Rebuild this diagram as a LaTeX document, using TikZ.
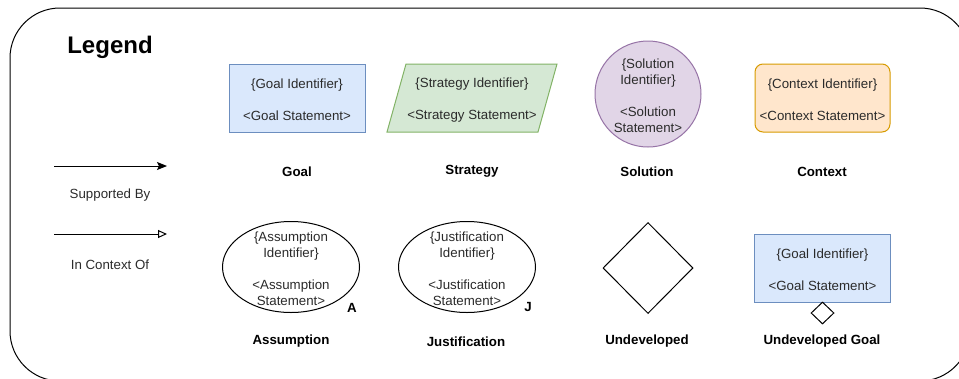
\documentclass[tikz,border=0pt]{standalone}
\usepackage{fontspec}
\setmainfont{Liberation Sans}
\usetikzlibrary{shapes.geometric,arrows.meta}
\definecolor{goalfill}{HTML}{DAE8FC}
\definecolor{goaldraw}{HTML}{6C8EBF}
\definecolor{stratfill}{HTML}{D5E8D4}
\definecolor{stratdraw}{HTML}{82B366}
\definecolor{solfill}{HTML}{E1D5E7}
\definecolor{soldraw}{HTML}{9673A6}
\definecolor{ctxfill}{HTML}{FFE6CC}
\definecolor{ctxdraw}{HTML}{D79B00}
\definecolor{txt}{HTML}{2B2B2B}
\begin{document}
\begin{tikzpicture}[x=1pt,y=-1pt,line width=1pt,
  every node/.style={font=\fontsize{13.3}{16}\selectfont, text=txt, align=center, inner sep=0pt},
  lbl/.style={font=\fontsize{13.3}{15}\selectfont\bfseries, text=black},
  goalbox/.style={rectangle, draw=goaldraw, fill=goalfill, minimum width=136pt, minimum height=68pt},
  ctxbox/.style={rectangle, rounded corners=8pt, draw=ctxdraw, fill=ctxfill, minimum width=135pt, minimum height=68pt},
  solbox/.style={circle, draw=soldraw, fill=solfill, minimum size=106pt},
  ellbox/.style={ellipse, draw=black, fill=white, minimum width=137pt, minimum height=91pt},
  diabox/.style={diamond, draw=black, fill=white, aspect=1}
]
\useasboundingbox (0,0) rectangle (959,378);
\begin{scope}
\clip (0,0) rectangle (959,378);
\draw[rounded corners=50pt] (10,8) rectangle (970,381);
\end{scope}

\node[font=\fontsize{24}{28}\selectfont\bfseries, text=black] (legend) at (110,47) {Legend};

% row 1
\node[goalbox] (goal) at (297,98) {};
\node (goalt) at (297,100) {\{Goal Identifier\}\\[16pt]<Goal Statement>};
\filldraw[draw=stratdraw, fill=stratfill] (387,132) -- (538,132) -- (557,64) -- (406,64) -- cycle;
\node (strat) at (472,100) {\{Strategy Identifier\}\\[16pt]<Strategy Statement>};
\node[solbox] (sol) at (648,94) {};
\node (solt) at (648,96) {\{Solution\\Identifier\}\\[16pt]<Solution\\Statement>};
\node[ctxbox] (ctx) at (822.5,98) {};
\node (ctxt) at (822.5,100) {\{Context Identifier\}\\[16pt]<Context Statement>};

\node[lbl] (lgoal) at (297,171.5) {Goal};
\node[lbl] (lstrat) at (472,171.5) {Strategy};
\node[lbl] (lsol) at (647,171.5) {Solution};
\node[lbl] (lctx) at (822,171.5) {Context};

% arrows
\coordinate (s1) at (54,166);
\coordinate (e1) at (167,166);
\draw[-{Stealth[length=10pt,width=8pt,inset=2pt]}] (s1) -- (e1);
\node (sup) at (110,195) {Supported By};
\coordinate (s2) at (54,234);
\coordinate (e2) at (167,234);
\draw[-{Triangle[open,length=9pt,width=8pt,fill=white]}] (s2) -- (e2);
\node (ctxof) at (110,265) {In Context Of};

% row 2
\node[ellbox] (ass) at (291,267) {};
\node (asst) at (291,269) {\{Assumption\\Identifier\}\\[16pt]<Assumption\\Statement>};
\node[lbl] (assA) at (352,308) {A};
\node[ellbox] (jus) at (467,267) {};
\node (just) at (467,269) {\{Justification\\Identifier\}\\[16pt]<Justification\\Statement>};
\node[lbl] (jusJ) at (528,307) {J};
\node[diabox, minimum width=90pt, minimum height=91pt] (und) at (648,268) {};
\node[goalbox] (ugoal) at (822.5,268) {};
\node (ugoalt) at (822.5,270) {\{Goal Identifier\}\\[16pt]<Goal Statement>};
\node[diabox, minimum width=23pt, minimum height=22pt] (udia) at (822.5,313) {};

\node[lbl] (lass) at (291,341.5) {Assumption};
\node[lbl] (ljus) at (466,341.5) {Justification};
\node[lbl] (lund) at (647,341.5) {Undeveloped};
\node[lbl] (lugoal) at (822,341.5) {Undeveloped Goal};
\end{tikzpicture}
\end{document}
